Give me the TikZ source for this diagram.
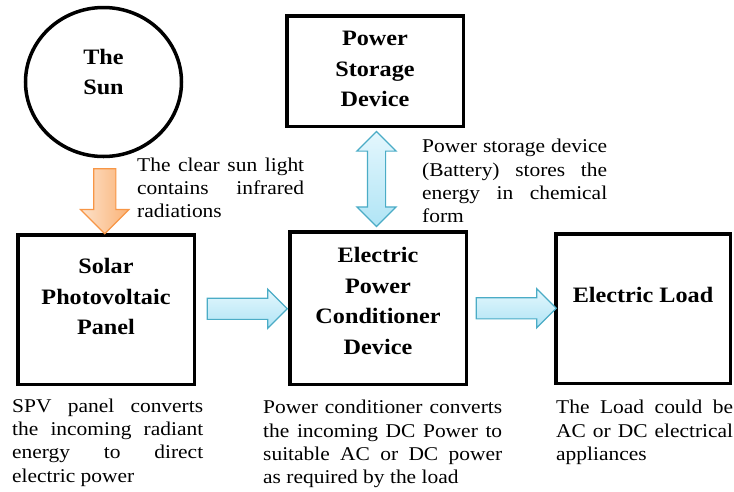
\documentclass[tikz,border=0pt]{standalone}
\usepackage{fontspec}
\setmainfont{Liberation Serif}[FakeStretch=1.1]
\usetikzlibrary{positioning, shapes.geometric, shapes.arrows, calc}
\definecolor{aquaLine}{RGB}{75,172,198}
\definecolor{aquaLight}{RGB}{228,247,253}
\definecolor{aquaDark}{RGB}{176,228,245}
\definecolor{sunLine}{RGB}{247,150,70}
\definecolor{sunLight}{RGB}{253,226,203}
\definecolor{sunDark}{RGB}{250,178,118}
\tolerance=10000
\hyphenpenalty=10000

\begin{document}
\begin{tikzpicture}[x=1pt, y=-1pt,
		blockbox/.style={draw, line width=3.5pt, minimum width=176.5pt, inner sep=0pt},
		blocktext/.style={font=\fontsize{22}{30.5}\selectfont\bfseries, align=center, inner sep=0pt},
		notetext/.style={font=\fontsize{19.5}{23.4}\selectfont, align=justify, anchor=north west, inner sep=0pt},
		flowarrow/.style={single arrow, draw=aquaLine, line width=1.2pt, top color=aquaLight, bottom color=aquaDark,
			inner xsep=0pt, inner ysep=10pt, single arrow head extend=9pt, minimum height=80pt},
		storearrow/.style={double arrow, draw=aquaLine, line width=1.2pt, top color=aquaLight, bottom color=aquaDark,
			inner xsep=0pt, inner ysep=8.5pt, double arrow head extend=10.5pt, minimum height=95pt},
		lightarrow/.style={single arrow, draw=sunLine, line width=1.2pt, left color=sunLight, right color=sunDark,
			inner xsep=0pt, inner ysep=10.5pt, single arrow head extend=13pt, minimum height=65pt}]
	\useasboundingbox (0,0) rectangle (734,491);

	% blocks
	\node[draw, ellipse, line width=3.5pt, minimum width=156pt, minimum height=149pt, inner sep=0pt] (sun) at (103.5,82) {};
	\node[blocktext] at ([yshift=10pt]sun.center) {The\\Sun};
	\node[blockbox, minimum height=110.5pt] (storage) at (375,71) {};
	\node[blocktext] at ([yshift=2pt]storage.center) {Power\\Storage\\Device};
	\node[blockbox, minimum height=149.5pt] (pv) at (106,309.5) {};
	\node[blocktext] at ([yshift=13pt]pv.center) {Solar\\Photovoltaic\\Panel};
	\node[blockbox, minimum height=152.5pt] (pcd) at (378,308) {};
	\node[blocktext] at ([yshift=7pt]pcd.center) {Electric\\Power\\Conditioner\\Device};
	\node[blockbox, minimum width=174.5pt, minimum height=149.5pt] (load) at (643,308.5) {};
	\node[blocktext] at ([yshift=14pt]load.center) {Electric Load};

	% arrows
	\node[lightarrow, rotate=-90] (sunarrow) at ($(sun.south)!0.5!(pv.north)$) {};
	\node[storearrow, rotate=90] (storearrow) at ($(storage.south)!0.5!(pcd.north)$) {};
	\node[flowarrow] (pvarrow) at ($(pv.east)!0.5!(pcd.west)$) {};
	\node[flowarrow] (loadarrow) at ($(pcd.east)!0.5!(load.west)$) {};

	% notes
	\node[notetext, text width=167pt] (suntext) at (137,157.4) {The clear sun light\linebreak contains infrared\linebreak radiations};
	\node[notetext, text width=185pt] (storagetext) at (422,139) {Power storage device\linebreak (Battery) stores the\linebreak energy in chemical\linebreak form};
	\node[notetext, text width=191pt] (pvtext) at (12,398.4) {SPV panel converts\linebreak the incoming radiant\linebreak energy to direct\linebreak electric power};
	\node[notetext, text width=239pt] (pcdtext) at (263,400) {Power conditioner converts\linebreak the incoming DC Power to\linebreak suitable AC or DC power\linebreak as required by the load};
	\node[notetext, text width=177pt] (loadtext) at (556,400) {The Load could be\linebreak AC or DC electrical\linebreak appliances};
\end{tikzpicture}
\end{document}
